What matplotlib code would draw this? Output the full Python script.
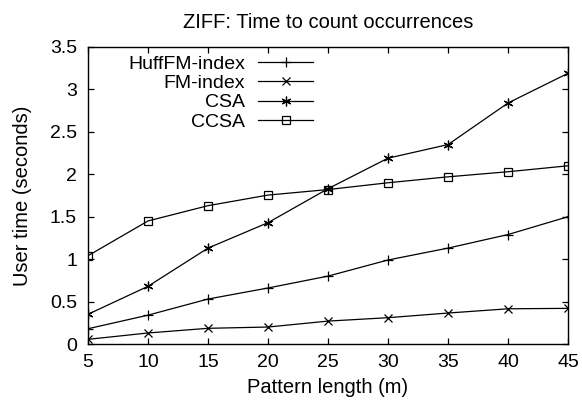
import matplotlib
matplotlib.use('Agg')
import matplotlib.pyplot as plt

plt.rcParams['font.family'] = ['Liberation Sans', 'DejaVu Sans']

# pattern length (m)
m = [5, 10, 15, 20, 25, 30, 35, 40, 45]
# user time in seconds
huff_fm = [0.18, 0.34, 0.53, 0.66, 0.80, 0.99, 1.13, 1.29, 1.50]
fm_index = [0.055, 0.13, 0.185, 0.20, 0.27, 0.31, 0.365, 0.415, 0.42]
csa = [0.35, 0.68, 1.13, 1.43, 1.83, 2.19, 2.35, 2.84, 3.19]
ccsa = [1.04, 1.45, 1.63, 1.755, 1.82, 1.90, 1.97, 2.03, 2.10]

fig = plt.figure(figsize=(5.82, 4.04), dpi=100)
ax = fig.add_axes([0.1512, 0.1485, 0.8248, 0.7352])

lw = 0.9
ax.plot(m, huff_fm, color='black', lw=lw, marker='+', ms=7, mew=0.9, label='HuffFM-index')
ax.plot(m, fm_index, color='black', lw=lw, marker='x', ms=6, mew=0.9, label='FM-index')
ax.plot(m, csa, color='black', lw=lw, marker=(6, 2, 0), ms=7, mew=0.9, label='CSA')
ax.plot(m, ccsa, color='black', lw=lw, marker='s', ms=5.5, mew=0.9, mfc='none', label='CCSA')

ax.set_xlim(5, 45)
ax.set_ylim(0, 3.5)
ax.set_xticks(m)
ax.set_yticks([0, 0.5, 1, 1.5, 2, 2.5, 3, 3.5])
ax.set_yticklabels(['0', '0.5', '1', '1.5', '2', '2.5', '3', '3.5'])
ax.tick_params(direction='in', top=True, right=True, length=4.5, width=0.9, labelsize=14)
ax.tick_params(axis='x', pad=7)
ax.tick_params(axis='y', pad=8)
for s in ax.spines.values():
    s.set_linewidth(1.0)

ax.set_title('ZIFF: Time to count occurrences', fontsize=14.5, pad=14)
ax.set_xlabel('Pattern length (m)', fontsize=14.5, labelpad=5)
ax.set_ylabel('User time (seconds)', fontsize=14.5, labelpad=13)

ax.legend(loc='upper right', bbox_to_anchor=(0.469, 0.973), frameon=False, markerfirst=False,
          fontsize=14, handlelength=2.83, labelspacing=0.09, borderpad=0, borderaxespad=0,
          handletextpad=0.67)

fig.savefig('out.png', dpi=100)
